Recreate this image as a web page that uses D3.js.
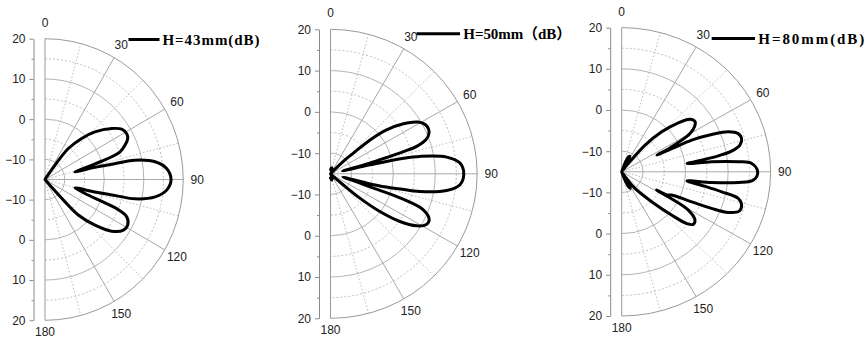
<!DOCTYPE html>
<html>
<head>
<meta charset="utf-8">
<script src="https://cdn.jsdelivr.net/npm/d3@7/dist/d3.min.js"></script>
<style>
  html, body { margin: 0; padding: 0; background: #fff; }
  svg { display: block; }
</style>
</head>
<body>
<script>
// ---------------- data ----------------
const legendLabels = ["H=43mm(dB)", "H=50mm\uFF08dB\uFF09", "H=80mm(dB)"];
const angleLabels = [0, 30, 60, 90, 120, 150, 180];
const spokeMajor = [30, 60, 90, 120, 150];
const spokeMinor = [15, 45, 75, 105, 135, 165];
const ringMajor = [-10, 0, 10];
const ringMinor = [-5, 5, 15];
const radialTickLabels = [-10, 0, 10, 20];
const radialMinorTicks = [-5, 5, 15];
const radialDomain = [-15, 20];

const angles43 = [0, 30, 33, 35.3, 37.5, 42.3, 46.9, 53.1, 57.2, 61, 64, 67.1, 70.1, 71.5, 72.4, 73.4, 74.6, 75.9, 76.6, 77.3, 78.1, 81, 84.9, 90, 94.9, 98.8, 101.9, 102.8, 103.8, 105.3, 107, 109, 110.5, 111.2, 112, 114.2, 118.5, 122.4, 127.3, 131.9, 136.4, 137.8, 139, 141, 180];
const db43 = [-17, -16, -14, -10.6, -5.3, -1.2, 2.3, 6.1, 8.1, 8.6, 8.3, 7.0, 5.2, 2.8, 0, -2.7, -5.4, -7.2, -2, 2, 8.3, 13.2, 15.9, 16.9, 15.9, 13.2, 8.3, 2, -2, -7.1, -6, -4.3, -1, 2.5, 5, 7.7, 8.8, 8.5, 6.2, 2.0, -2.8, -8.7, -13, -16, -17];

const angles50 = [0, 10, 20, 30, 40, 44, 46, 47.5, 49, 51.5, 55.1, 59.1, 63.1, 67.2, 70.1, 72.1, 72.9, 73.6, 74.6, 75.5, 76.2, 77, 77.8, 78.8, 81.7, 85.2, 90, 94.9, 98.3, 101.4, 102.5, 103.6, 104.6, 105.5, 107, 108.6, 109.5, 111.5, 115.3, 118.5, 121.5, 124.9, 127.8, 130.1, 131.4, 133, 140, 150, 160, 170, 180];
const db50 = [-14, -13.5, -13.8, -14.5, -15.5, -14, -10, -7.6, -2.5, 2.1, 6.2, 9.4, 10.7, 10.5, 9.2, 6.6, 3.2, -1.0, -5.3, -9.4, -12, -5.3, 2.9, 6.7, 13.0, 16.0, 16.8, 16.0, 13.0, 6.7, 2.0, -1.3, -6, -11.9, -9, -5, 3.4, 8.8, 11.05, 10.9, 9.1, 5.2, -0.1, -5.85, -11, -14, -15.5, -14.5, -13.8, -13.5, -14];

const angles80 = [0, 15, 20, 24, 27, 30, 33, 35, 37.8, 40.3, 44.1, 48.2, 51.5, 54.8, 57.4, 59.9, 61.4, 62.7, 63.3, 63.9, 64.5, 64.9, 66.8, 68.8, 71.3, 74, 76.9, 79, 80.3, 81.4, 82.6, 83.4, 84.9, 86.2, 90, 93.7, 95.4, 97, 98.2, 100.2, 101.7, 103.3, 106, 109.1, 111.5, 112.8, 113.9, 115.7, 117.8, 118.4, 119.2, 120.7, 124.2, 127.2, 129.4, 131.8, 135.9, 142.3, 145, 147, 150, 153, 156, 160, 165, 180];
const db80 = [-16, -15.5, -13, -11, -10.8, -12, -14.5, -14, -12.4, -6.5, -1.5, 2.85, 5.5, 6.1, 5.3, 3.55, 1.06, -1.8, -3, -5.8, -1.5, 3.15, 8, 11.9, 13.9, 14.3, 13.5, 11.3, 8, 4, 0.5, 6.3, 12.5, 15.6, 16.95, 16, 12.5, 6.3, 0.5, 4.9, 9, 13.15, 14.3, 14.2, 11.9, 7.9, 3, -2, -3, -5.7, -1.6, 3.2, 5.8, 6.1, 4.8, 0.8, -4.9, -9.9, -13, -14.5, -12, -10.5, -11, -13.5, -15.5, -16];

// ---------------- layout ----------------
const panels = [
  { angles: angles43, db: db43, label: legendLabels[0], cx: 45, cy: 179.5, rx: 138.3, ry: 140.8,
    leg: { x1: 128.5, x2: 159.5, y: 39.5, tx: 162.5, ty: 44.5, tl: 97 } },
  { angles: angles50, db: db50, label: legendLabels[1], cx: 330.5, cy: 173.8, rx: 146.7, ry: 144.5,
    leg: { x1: 416.5, x2: 460, y: 33.7, tx: 463.3, ty: 38.5, tl: 108 } },
  { angles: angles80, db: db80, label: legendLabels[2], cx: 621.7, cy: 171.8, rx: 149, ry: 144.2,
    leg: { x1: 711.7, x2: 755, y: 38.5, tx: 758.3, ty: 43.5, tl: 106 } }
];

const svg = d3.select("body").append("svg").attr("width", 867).attr("height", 340);
const rad = a => a * Math.PI / 180;

panels.forEach(p => {
  const g = svg.append("g");
  const r = d3.scaleLinear().domain(radialDomain).range([0, 1]).clamp(true);
  const px = (a, v) => p.cx + r(v) * p.rx * Math.sin(rad(a));
  const py = (a, v) => p.cy - r(v) * p.ry * Math.cos(rad(a));
  const halfEllipse = k => `M${p.cx},${p.cy - k * p.ry} A${k * p.rx},${k * p.ry} 0 0 1 ${p.cx},${p.cy + k * p.ry}`;

  // minor rings (dotted)
  g.selectAll(".ringMinor").data(ringMinor).join("path")
    .attr("d", v => halfEllipse(r(v)))
    .attr("fill", "none").attr("stroke", "#bdbdbd").attr("stroke-width", 1)
    .attr("stroke-dasharray", "2,2");
  // minor spokes (dotted)
  g.selectAll(".spokeMinor").data(spokeMinor).join("line")
    .attr("x1", p.cx).attr("y1", p.cy)
    .attr("x2", a => px(a, radialDomain[1])).attr("y2", a => py(a, radialDomain[1]))
    .attr("stroke", "#bdbdbd").attr("stroke-width", 1).attr("stroke-dasharray", "1.5,2");
  // major rings (solid)
  g.selectAll(".ringMajor").data(ringMajor).join("path")
    .attr("d", v => halfEllipse(r(v)))
    .attr("fill", "none").attr("stroke", "#b5b5b5").attr("stroke-width", 1);
  // major spokes (solid)
  g.selectAll(".spokeMajor").data(spokeMajor).join("line")
    .attr("x1", p.cx).attr("y1", p.cy)
    .attr("x2", a => px(a, radialDomain[1])).attr("y2", a => py(a, radialDomain[1]))
    .attr("stroke", "#a8a8a8").attr("stroke-width", 1);
  // outer boundary + diameter
  g.append("path").attr("d", halfEllipse(1))
    .attr("fill", "none").attr("stroke", "#9a9a9a").attr("stroke-width", 1);
  g.append("line").attr("x1", p.cx).attr("x2", p.cx)
    .attr("y1", p.cy - p.ry).attr("y2", p.cy + p.ry)
    .attr("stroke", "#9a9a9a").attr("stroke-width", 1);

  // radial axis on the left (mirrored halves)
  const axX = p.cx - 11.5;
  const yTop = d3.scaleLinear().domain(radialDomain).range([p.cy, p.cy - p.ry]);
  const yBot = d3.scaleLinear().domain(radialDomain).range([p.cy, p.cy + p.ry]);
  [yTop, yBot].forEach(sc => {
    const ax = g.append("g").attr("transform", `translate(${axX},0)`)
      .call(d3.axisLeft(sc).tickValues(radialTickLabels).tickSize(4).tickSizeOuter(0).tickPadding(4).tickFormat(d3.format("d")));
    ax.select(".domain").attr("stroke", "#8a8a8a");
    ax.selectAll(".tick line").attr("stroke", "#8a8a8a");
    ax.selectAll(".tick text").attr("font-family", "Liberation Sans, Arial, sans-serif")
      .attr("font-size", 12).attr("fill", "#222");
    const mn = g.append("g").attr("transform", `translate(${axX},0)`)
      .call(d3.axisLeft(sc).tickValues(radialMinorTicks).tickSize(2).tickSizeOuter(0).tickFormat(""));
    mn.select(".domain").remove();
    mn.selectAll(".tick line").attr("stroke", "#8a8a8a");
  });

  // angle labels
  const labOff = a => (a === 180 ? 12 : a === 0 ? 16 : 14);
  g.selectAll(".alab").data(angleLabels).join("text")
    .attr("x", a => px(a, radialDomain[1]) + 14 * Math.sin(rad(a)))
    .attr("y", a => py(a, radialDomain[1]) - labOff(a) * Math.cos(rad(a)))
    .attr("text-anchor", "middle").attr("dominant-baseline", "central")
    .attr("font-family", "Liberation Sans, Arial, sans-serif").attr("font-size", 12)
    .attr("fill", "#222").text(a => a);

  // data curve
  const pts = p.angles.map((a, i) => ({ a, v: p.db[i] }));
  const line = d3.line().x(d => px(d.a, d.v)).y(d => py(d.a, d.v))
    .curve(d3.curveCatmullRom.alpha(0.5));
  g.append("path").datum(pts).attr("d", line)
    .attr("fill", "none").attr("stroke", "#000").attr("stroke-width", 3)
    .attr("stroke-linejoin", "round").attr("stroke-linecap", "round");

  // legend
  g.append("line").attr("x1", p.leg.x1).attr("x2", p.leg.x2)
    .attr("y1", p.leg.y).attr("y2", p.leg.y)
    .attr("stroke", "#000").attr("stroke-width", 3);
  g.append("text").attr("x", p.leg.tx).attr("y", p.leg.ty)
    .attr("font-family", "'Liberation Serif', 'Times New Roman', 'Noto Sans CJK SC', serif")
    .attr("font-weight", "bold").attr("font-size", 15)
    .attr("textLength", p.leg.tl).attr("lengthAdjust", "spacing")
    .attr("fill", "#000").text(p.label);
});
</script>
</body>
</html>
